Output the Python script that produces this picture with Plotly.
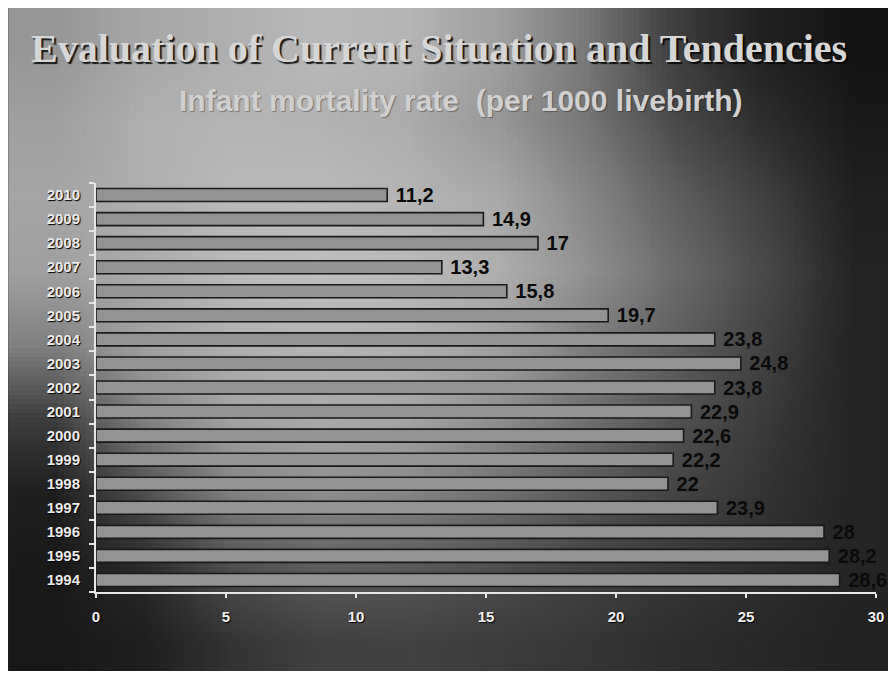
import base64
import struct
import zlib

import plotly.graph_objects as go

# ---- data ----
years = ["1994", "1995", "1996", "1997", "1998", "1999", "2000", "2001", "2002",
         "2003", "2004", "2005", "2006", "2007", "2008", "2009", "2010"]
rates = [28.6, 28.2, 28, 23.9, 22, 22.2, 22.6, 22.9, 23.8,
         24.8, 23.8, 19.7, 15.8, 13.3, 17, 14.9, 11.2]
x_ticks = [0, 5, 10, 15, 20, 25, 30]

title_text = "Evaluation of Current Situation and Tendencies"
subtitle_text = "Infant mortality rate&nbsp; (per 1000 livebirth)"

labels = [" " + ("%g" % v).replace(".", ",") for v in rates]

# ---- decorative background (grayscale slide backdrop) ----
bg_grid = [
    [150, 168, 175, 185, 180, 160, 120, 62, 32, 20],
    [160, 175, 180, 178, 172, 152, 118, 74, 46, 25],
    [165, 175, 185, 186, 180, 170, 135, 95, 64, 32],
    [160, 172, 186, 190, 186, 175, 145, 108, 74, 36],
    [128, 160, 176, 180, 176, 160, 125, 95, 66, 36],
    [60, 128, 163, 170, 165, 142, 112, 82, 58, 36],
    [30, 78, 128, 140, 132, 112, 88, 68, 52, 36],
    [25, 42, 78, 92, 88, 78, 66, 56, 46, 36],
    [24, 30, 52, 64, 66, 60, 54, 46, 40, 34],
]


def gray_png(grid):
    h = len(grid)
    w = len(grid[0])
    raw = b"".join(b"\x00" + bytes(row) for row in grid)

    def chunk(tag, data):
        c = struct.pack(">I", len(data)) + tag + data
        return c + struct.pack(">I", zlib.crc32(tag + data) & 0xFFFFFFFF)

    png = b"\x89PNG\r\n\x1a\n"
    png += chunk(b"IHDR", struct.pack(">IIBBBBB", w, h, 8, 0, 0, 0, 0))
    png += chunk(b"IDAT", zlib.compress(raw, 9))
    png += chunk(b"IEND", b"")
    return "data:image/png;base64," + base64.b64encode(png).decode()


# figure sits at (8, 8) in the page because of the default body margin
W, H = 888, 663
ML, MR, MT, MB = 88, 18, 175, 79
PW, PH = W - ML - MR, H - MT - MB


def px_x(p):
    return (p - ML) / PW


def px_y(p):
    return (H - MB - p) / PH


fig = go.Figure()
fig.add_trace(go.Bar(
    y=years,
    x=rates,
    orientation="h",
    marker=dict(color="#939393", line=dict(color="#1a1a1a", width=1.6)),
    text=labels,
    textposition="outside",
    textfont=dict(family="Liberation Sans, Arial", size=20, color="#0a0a0a", weight="bold"),
    cliponaxis=False,
    hoverinfo="skip",
))

fig.update_layout(
    width=W,
    height=H,
    margin=dict(l=ML, r=MR, t=MT, b=MB),
    paper_bgcolor="#2a2a2a",
    plot_bgcolor="rgba(0,0,0,0)",
    showlegend=False,
    bargap=0.46,
    uniformtext=dict(minsize=20, mode="show"),
    images=[dict(
        source=gray_png(bg_grid),
        xref="paper", yref="paper",
        x=px_x(0), y=px_y(0),
        sizex=W / PW, sizey=(H + 8) / PH,
        xanchor="left", yanchor="top",
        sizing="stretch", layer="below",
    )],
    xaxis=dict(
        range=[0, 30],
        tickvals=x_ticks,
        showgrid=False,
        zeroline=False,
        showline=True,
        linecolor="#e6e6e6",
        linewidth=2,
        ticks="outside",
        ticklen=4,
        tickcolor="#e6e6e6",
        tickwidth=2,
        ticklabelstandoff=6,
        tickfont=dict(family="Liberation Sans, Arial", size=15, color="#f0f0f0",
                      weight="bold", shadow="1px 1px 1px #000"),
        fixedrange=True,
    ),
    yaxis=dict(
        type="category",
        showgrid=False,
        zeroline=False,
        showline=True,
        linecolor="#e6e6e6",
        linewidth=2,
        ticks="outside",
        tickson="boundaries",
        ticklen=5,
        tickcolor="#e6e6e6",
        tickwidth=2,
        ticklabelstandoff=11,
        tickfont=dict(family="Liberation Sans, Arial", size=15, color="#ececec",
                      weight="bold", shadow="1px 1px 1px #000"),
        fixedrange=True,
    ),
    annotations=[
        dict(
            text=title_text,
            xref="paper", yref="paper",
            x=px_x(432), y=px_y(40),
            xanchor="center", yanchor="middle",
            showarrow=False,
            font=dict(family="Liberation Serif, Times New Roman", size=40,
                      color="#d6d6d6", weight="bold",
                      shadow="2px 2px 1px rgba(0,0,0,0.85)"),
        ),
        dict(
            text=subtitle_text,
            xref="paper", yref="paper",
            x=px_x(453), y=px_y(92),
            xanchor="center", yanchor="middle",
            showarrow=False,
            font=dict(family="Liberation Sans, Arial", size=30,
                      color="#d0d0d0", weight="bold",
                      shadow="1px 1px 1px rgba(0,0,0,0.35)"),
        ),
    ],
)

fig.write_html("out.html")
